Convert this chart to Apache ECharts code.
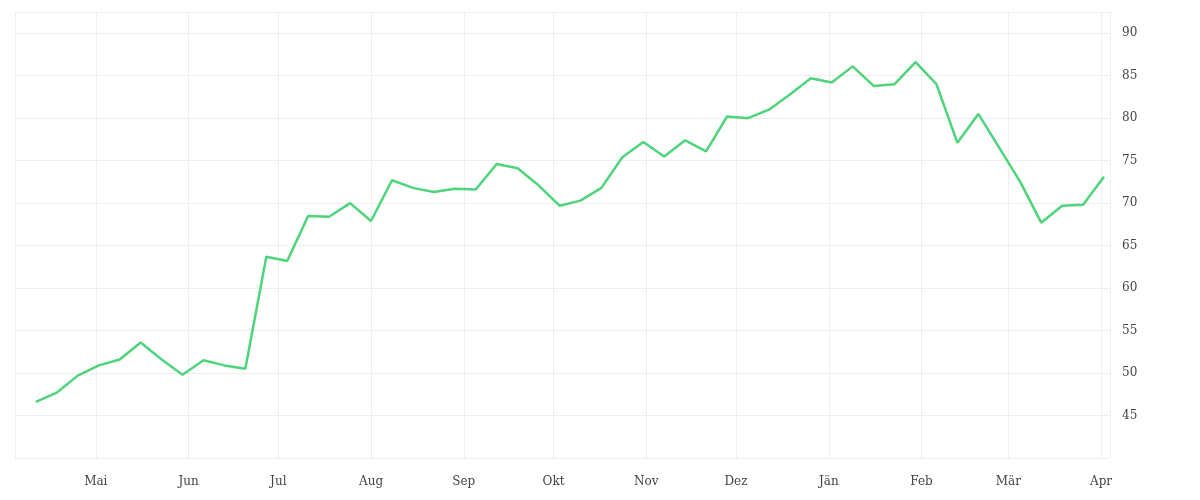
<!DOCTYPE html>
<html><head><meta charset="utf-8">
<script src="https://cdn.jsdelivr.net/npm/echarts@6/dist/echarts.min.js"></script>
<style>html,body{margin:0;background:#fff}#c{width:1200px;height:500px}</style>
</head><body><div id="c"></div>
<script>
const startDate = '2023-04-11';
const values = [46.6,47.7,49.7,50.9,51.6,53.6,51.6,49.8,51.5,50.9,50.5,63.7,63.2,68.5,68.4,70.0,67.9,72.7,71.8,71.3,71.7,71.6,74.6,74.1,72.1,69.7,70.3,71.8,75.4,77.2,75.5,77.4,76.1,80.2,80.0,81.0,82.8,84.7,84.2,86.1,83.8,84.0,86.6,84.0,77.1,80.5,76.5,72.5,67.7,69.7,69.8,73.1];
const monthNames = ['Jän','Feb','Mär','Apr','Mai','Jun','Jul','Aug','Sep','Okt','Nov','Dez'];
const yTicks = [45,50,55,60,65,70,75,80,85,90];
const t0 = Date.parse(startDate + 'T00:00:00Z');
const data = values.map((v,i)=>[t0 + i*7*86400000, v]);
const chart = echarts.init(document.getElementById('c'));
chart.setOption({
  animation:false,
  grid:{left:15,right:90,top:12,bottom:42},
  xAxis:{type:'time',min:Date.parse('2023-04-04T00:00:00Z'),max:Date.parse('2024-04-04T00:00:00Z'),
    minInterval:28*86400000,maxInterval:31*86400000,
    axisLine:{show:false},axisTick:{show:false},
    splitLine:{show:true,lineStyle:{color:'#eeeeee'}},
    axisLabel:{color:'#444',fontFamily:'DejaVu Serif',fontSize:12,margin:18,
      formatter:v=>monthNames[new Date(v).getUTCMonth()]}},
  yAxis:{type:'value',position:'right',min:40,max:92.5,interval:5,
    axisLine:{show:true,lineStyle:{color:'#eeeeee'}},axisTick:{show:false},
    splitLine:{lineStyle:{color:'#eeeeee'}},
    axisLabel:{color:'#444',fontFamily:'DejaVu Serif',fontSize:12,margin:12,
      formatter:v=>yTicks.includes(v)?String(v):''}},
  series:[{type:'line',data:data,showSymbol:false,lineStyle:{color:'#4ed47b',width:2.5},itemStyle:{color:'#4ed47b'}}]
});
</script></body></html>
